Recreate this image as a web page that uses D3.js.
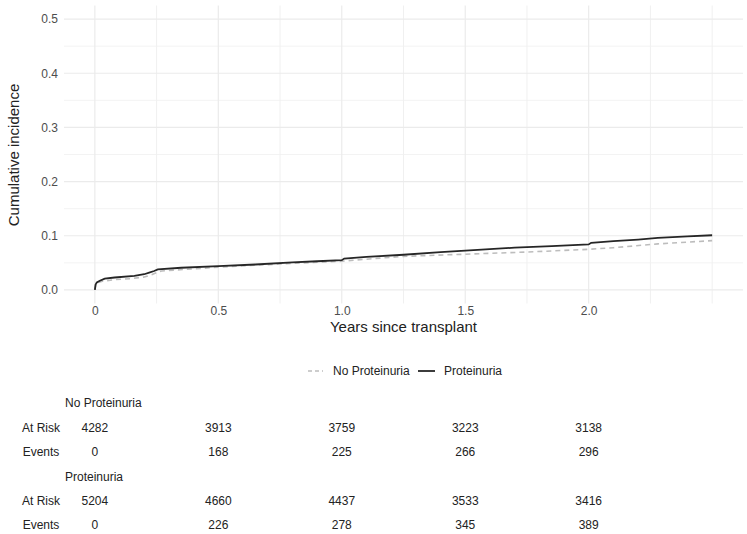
<!DOCTYPE html>
<html>
<head>
<meta charset="utf-8">
<script src="https://cdn.jsdelivr.net/npm/d3@7"></script>
<style>
  body { margin: 0; background: #fff; }
  svg text { font-family: "Liberation Sans", Arial, sans-serif; }
</style>
</head>
<body>
<div id="chart"></div>
<script>
// cumulative incidence curves, [years, incidence]
var noProteinuria = [
    [0, 0], [0.003, 0.009], [0.008, 0.013], [0.03, 0.016], [0.08, 0.019],
    [0.15, 0.021], [0.2, 0.024], [0.23, 0.028], [0.25, 0.032], [0.27, 0.035],
    [0.4, 0.039], [0.5, 0.042], [0.75, 0.048], [1.0, 0.053], [1.05, 0.055],
    [1.25, 0.062], [1.5, 0.066], [1.75, 0.070], [2.0, 0.075], [2.1, 0.078],
    [2.28, 0.085], [2.5, 0.091]
];
var proteinuria = [
    [0, 0], [0.003, 0.010], [0.008, 0.014], [0.02, 0.017], [0.04, 0.021],
    [0.08, 0.023], [0.16, 0.026], [0.2, 0.029], [0.22, 0.032], [0.24, 0.035],
    [0.255, 0.038], [0.35, 0.041], [0.5, 0.044], [0.65, 0.047], [0.8, 0.051],
    [0.9, 0.053], [1.0, 0.055], [1.01, 0.058], [1.1, 0.061], [1.25, 0.065],
    [1.4, 0.070], [1.55, 0.074], [1.7, 0.078], [1.85, 0.081], [2.0, 0.084],
    [2.01, 0.087], [2.1, 0.090], [2.2, 0.093], [2.28, 0.096], [2.4, 0.099],
    [2.5, 0.101]
];

var xTicks = [0, 0.5, 1, 1.5, 2];
var xTickLabels = ["0", "0.5", "1.0", "1.5", "2.0"];
var xMinor = [0.25, 0.75, 1.25, 1.75, 2.25, 2.5];
var yTicks = [0, 0.1, 0.2, 0.3, 0.4, 0.5];
var yMinor = [0.05, 0.15, 0.25, 0.35, 0.45];

var tableTimes = [0, 0.5, 1, 1.5, 2];
var atRiskNo = [4282, 3913, 3759, 3223, 3138];
var eventsNo = [0, 168, 225, 266, 296];
var atRiskPro = [5204, 4660, 4437, 3533, 3416];
var eventsPro = [0, 226, 278, 345, 389];

var width = 747, height = 534;
var svg = d3.select("#chart").append("svg")
    .attr("width", width)
    .attr("height", height);

var x = d3.scaleLinear().domain([-0.125, 2.625]).range([64, 743]);
var y = d3.scaleLinear().domain([-0.025, 0.525]).range([303.5, 5.5]);

// grid
var grid = svg.append("g");
grid.selectAll(".ymin").data(yMinor).enter().append("line")
    .attr("x1", 64).attr("x2", 743)
    .attr("y1", d => y(d)).attr("y2", d => y(d))
    .attr("stroke", "#f3f3f3").attr("stroke-width", 1);
grid.selectAll(".xmin").data(xMinor).enter().append("line")
    .attr("y1", 5.5).attr("y2", 303.5)
    .attr("x1", d => x(d)).attr("x2", d => x(d))
    .attr("stroke", "#f0f0f0").attr("stroke-width", 1);
grid.selectAll(".ymaj").data(yTicks).enter().append("line")
    .attr("x1", 64).attr("x2", 743)
    .attr("y1", d => y(d)).attr("y2", d => y(d))
    .attr("stroke", "#ebebeb").attr("stroke-width", 1.2);
grid.selectAll(".xmaj").data(xTicks).enter().append("line")
    .attr("y1", 5.5).attr("y2", 303.5)
    .attr("x1", d => x(d)).attr("x2", d => x(d))
    .attr("stroke", "#ebebeb").attr("stroke-width", 1.2);

// axes
var yAxis = svg.append("g")
    .attr("transform", "translate(64,0)")
    .call(d3.axisLeft(y).tickValues(yTicks).tickFormat(d3.format(".1f")).tickSize(0).tickPadding(6));
var xAxis = svg.append("g")
    .attr("transform", "translate(0,303.5)")
    .call(d3.axisBottom(x).tickValues(xTicks).tickFormat((d, i) => xTickLabels[i]).tickSize(0).tickPadding(3));
[yAxis, xAxis].forEach(function(a) {
    a.select(".domain").remove();
    a.selectAll("text")
        .attr("fill", "#4d4d4d")
        .style("font-size", "12px");
});

svg.append("text")
    .attr("transform", "translate(19,155) rotate(-90)")
    .attr("text-anchor", "middle")
    .style("font-size", "15px")
    .attr("fill", "#222")
    .text("Cumulative incidence");
svg.append("text")
    .attr("x", 403.5).attr("y", 332)
    .attr("text-anchor", "middle")
    .style("font-size", "15px")
    .attr("fill", "#222")
    .text("Years since transplant");

// curves
var line = d3.line()
    .x(d => x(d[0]))
    .y(d => y(d[1]));

svg.append("path")
    .datum(noProteinuria)
    .attr("d", line)
    .attr("fill", "none")
    .attr("stroke", "#bdbdbd")
    .attr("stroke-width", 1.6)
    .attr("stroke-dasharray", "5,4");

svg.append("path")
    .datum(proteinuria)
    .attr("d", line)
    .attr("fill", "none")
    .attr("stroke", "#262626")
    .attr("stroke-width", 1.8);

// legend
var legend = svg.append("g");
legend.append("line")
    .attr("x1", 308).attr("x2", 323).attr("y1", 371).attr("y2", 371)
    .attr("stroke", "#bdbdbd").attr("stroke-width", 1.6).attr("stroke-dasharray", "4,3");
legend.append("text")
    .attr("x", 333).attr("y", 375)
    .style("font-size", "12px").attr("fill", "#222")
    .text("No Proteinuria");
legend.append("line")
    .attr("x1", 418).attr("x2", 435).attr("y1", 371).attr("y2", 371)
    .attr("stroke", "#262626").attr("stroke-width", 1.8);
legend.append("text")
    .attr("x", 444).attr("y", 375)
    .style("font-size", "12px").attr("fill", "#222")
    .text("Proteinuria");

// risk table
var table = svg.append("g").style("font-size", "12px").attr("fill", "#222");
function groupTitle(label, yy) {
    table.append("text").attr("x", 65).attr("y", yy + 4).text(label);
}
function tableRow(label, values, yy) {
    table.append("text")
        .attr("x", 41).attr("y", yy + 4)
        .attr("text-anchor", "middle")
        .text(label);
    table.selectAll(null).data(values).enter().append("text")
        .attr("x", (d, i) => x(tableTimes[i]))
        .attr("y", yy + 4)
        .attr("text-anchor", "middle")
        .text(d => d);
}
groupTitle("No Proteinuria", 403);
tableRow("At Risk", atRiskNo, 428);
tableRow("Events", eventsNo, 452);
groupTitle("Proteinuria", 477);
tableRow("At Risk", atRiskPro, 501);
tableRow("Events", eventsPro, 525);
</script>
</body>
</html>
